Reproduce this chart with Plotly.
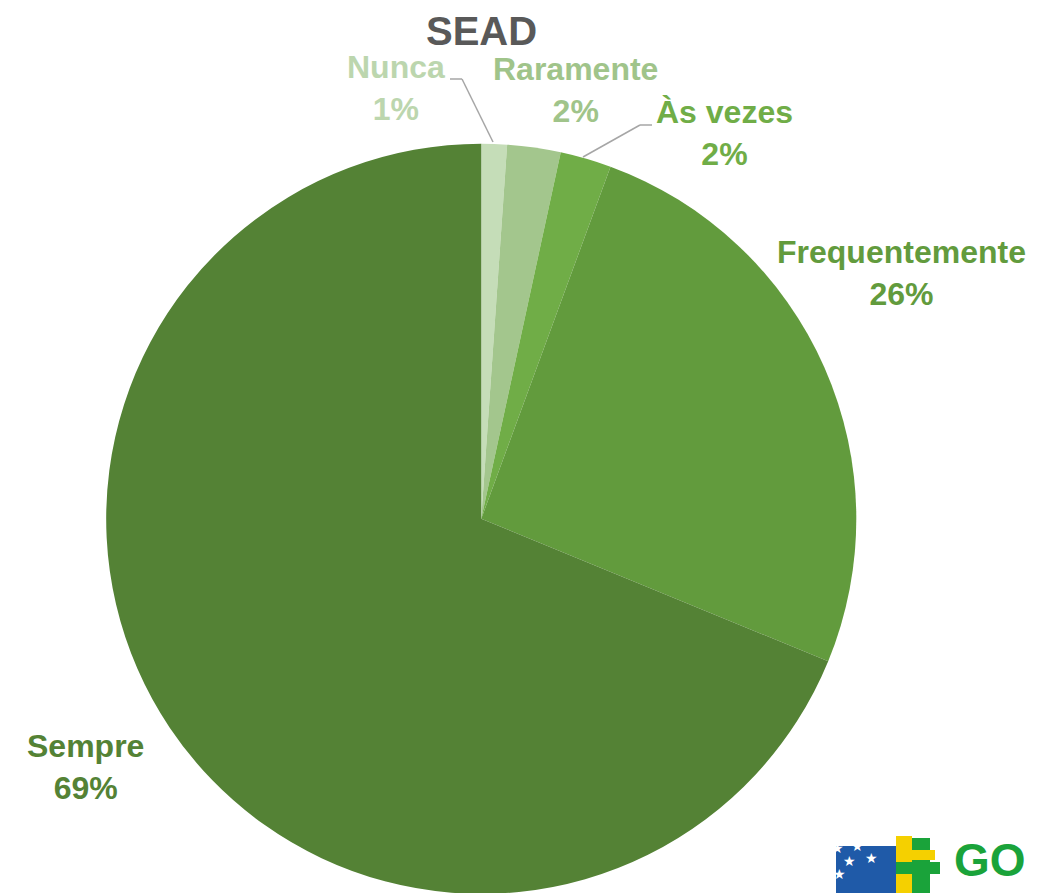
import plotly.graph_objects as go

# data
labels = ["Nunca", "Raramente", "Às vezes", "Frequentemente", "Sempre"]
values = [1.1, 2.3, 2.2, 25.6, 68.8]
pct_text = ["1%", "2%", "2%", "26%", "69%"]
colors = ["#c5ddb8", "#a3c68d", "#70ad47", "#629b3d", "#548235"]
text_colors = ["#bcd6ae", "#a0c48a", "#70ad47", "#629b3d", "#548235"]

W, H = 1054, 893
FONT = "Liberation Sans, Arial, sans-serif"
OFF = 8  # page body margin

def px(x, y):
    # screen pixel -> paper coordinates
    return (x - OFF) / W, 1 - (y - OFF) / H

fig = go.Figure()
fig.add_trace(go.Pie(
    labels=labels,
    values=values,
    sort=False,
    direction="clockwise",
    rotation=0,
    marker=dict(colors=colors, line=dict(width=0)),
    textinfo="none",
    hoverinfo="label+percent",
    domain=dict(x=[0.093, 0.805], y=[0.008, 0.848]),
    showlegend=False,
))

# label positions (pixel centres of each text block)
label_pos = [(396, 88), (575, 90), (724, 133), (901, 273), (85, 767)]

ann = []
for lab, pct, col, (lx, ly) in zip(labels, pct_text, text_colors, label_pos):
    xp, yp = px(lx, ly)
    ann.append(dict(x=xp, y=yp, xref="paper", yref="paper",
                    text="<b>%s<br>%s</b>" % (lab, pct),
                    showarrow=False, xanchor="center", yanchor="middle",
                    font=dict(family=FONT, size=32, color=col)))

tx, _ = px(481, 27)
ann.append(dict(x=tx, y=1, xref="paper", yref="paper", text="<b>SEAD</b>",
                showarrow=False, xanchor="center", yanchor="top", borderpad=0,
                font=dict(family=FONT, size=40, color="#595959")))

# leader lines for the small slices
leaders = [[(450, 79), (462, 79), (493, 142)],
           [(583, 157), (640, 125), (652, 125)]]
shapes = []
for pts in leaders:
    for (x0, y0), (x1, y1) in zip(pts[:-1], pts[1:]):
        a0, b0 = px(x0, y0)
        a1, b1 = px(x1, y1)
        shapes.append(dict(type="line", xref="paper", yref="paper",
                           x0=a0, y0=b0, x1=a1, y1=b1,
                           line=dict(color="#a6a6a6", width=1.5)))

# rough sketch of the logo in the corner
def rect(x0, y0, x1, y1, col):
    a0, b0 = px(x0, y0)
    a1, b1 = px(x1, y1)
    return dict(type="rect", xref="paper", yref="paper", x0=a0, y0=b0, x1=a1, y1=b1,
                fillcolor=col, line=dict(width=0), layer="above")

shapes += [
    rect(836, 846, 896, 893, "#1f5aa8"),
    rect(896, 836, 912, 893, "#f5d000"),
    rect(912, 838, 930, 893, "#1aa33a"),
    rect(896, 862, 940, 874, "#1aa33a"),
    rect(896, 850, 935, 860, "#f5d000"),
]
for sx, sy in [(846, 858), (866, 856), (884, 851), (858, 871), (880, 868), (848, 884)]:
    xp, yp = px(sx, sy)
    ann.append(dict(x=xp, y=yp, xref="paper", yref="paper", text="★", showarrow=False,
                    font=dict(family="DejaVu Sans", size=14, color="white")))
gx, gy = px(990, 860)
ann.append(dict(x=gx, y=gy, xref="paper", yref="paper", text="<b>GO</b>", showarrow=False,
                xanchor="center", yanchor="middle",
                font=dict(family=FONT, size=46, color="#1aa33a")))

fig.update_layout(
    width=W, height=H,
    margin=dict(l=0, r=0, t=0, b=0),
    paper_bgcolor="white",
    plot_bgcolor="white",
    annotations=ann,
    shapes=shapes,
)

fig.write_html("out.html")
